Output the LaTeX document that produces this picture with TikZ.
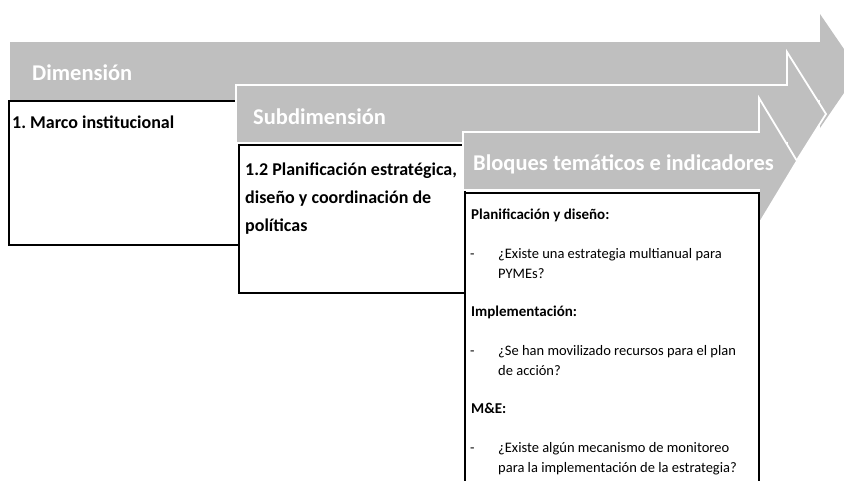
\documentclass[tikz,border=0pt]{standalone}
\usepackage{fontspec}
\setmainfont{Carlito}
\frenchspacing
\definecolor{bandgray}{RGB}{191,191,191}

\begin{document}
\begin{tikzpicture}[x=1pt,y=-1pt,
    band/.style={fill=bandgray,draw=white,line width=1.8pt},
    panel/.style={fill=white,draw=black,line width=2pt},
    headtext/.style={anchor=base west,inner sep=0pt,text=white,font=\fontsize{22.5}{27}\selectfont\bfseries},
    boxtext/.style={anchor=base west,inner sep=0pt,font=\fontsize{18}{27}\selectfont\bfseries},
    itemhead/.style={anchor=base west,inner sep=0pt,font=\fontsize{15}{20}\selectfont\bfseries},
    itemtext/.style={anchor=base west,inner sep=0pt,font=\fontsize{14.5}{20}\selectfont}]
    \useasboundingbox (0,0) rectangle (844,480);
    \begin{scope}
        \clip (0,0) rectangle (844,480);

        % Dimension arrow and box
        \fill [bandgray] (10,42) -- (820,42) -- (820,14) -- (859,71) -- (820,128) -- (820,100) -- (10,100) -- cycle;
        \node [headtext] (dimhead) at (32,80) {Dimensión};
        \draw [panel] (9,101) rectangle (239,245);
        \node [boxtext] (dimtext) at (12,128) {1. Marco institucional};

        % Subdimension arrow and box
        \draw [band] (236,85) -- (787,85) -- (787,52) -- (826,114) -- (787,176) -- (787,143) -- (236,143) -- cycle;
        \node [headtext] (subhead) at (253,124) {Subdimensión};
        \draw [panel] (239,145) rectangle (465,293);
        \node [boxtext] (subtext1) at (245,175) {1.2 Planificación estratégica,};
        \node [boxtext] (subtext2) at (245,203) {diseño y coordinación de};
        \node [boxtext] (subtext3) at (245,231) {políticas};

        % Thematic blocks arrow and box
        \draw [band] (463,132) -- (759,132) -- (759,98) -- (797,161) -- (759,224) -- (759,190) -- (463,190) -- cycle;
        \node [headtext] (blockhead) at (473,170) {Bloques temáticos e indicadores};
        \draw [panel] (465,193) rectangle (759,490);

        % Indicators
        \node [itemhead] (plan) at (471,219) {Planificación y diseño:};
        \node [itemtext] (plandash) at (470,258) {-};
        \node [itemtext] (plan1) at (498,258) {¿Existe una estrategia multianual para};
        \node [itemtext] (plan2) at (498,278) {PYMEs?};
        \node [itemhead] (impl) at (471,316) {Implementación:};
        \node [itemtext] (impldash) at (470,355) {-};
        \node [itemtext] (impl1) at (498,355) {¿Se han movilizado recursos para el plan};
        \node [itemtext] (impl2) at (498,375) {de acción?};
        \node [itemhead] (mye) at (471,413) {M\&E:};
        \node [itemtext] (myedash) at (470,452) {-};
        \node [itemtext] (mye1) at (498,452) {¿Existe algún mecanismo de monitoreo};
        \node [itemtext] (mye2) at (498,472) {para la implementación de la estrategia?};
    \end{scope}
\end{tikzpicture}
\end{document}
